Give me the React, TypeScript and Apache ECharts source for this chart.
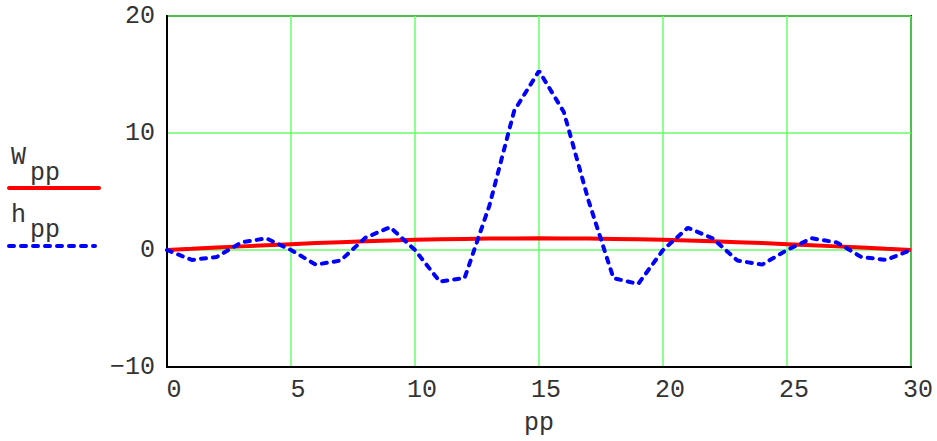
import React, { useEffect, useRef } from "react";
import * as echarts from "echarts";

const pp: number[] = Array.from({ length: 31 }, (_, i) => i);
const W: number[] = [
  0, 0.1, 0.21, 0.31, 0.41, 0.5, 0.59, 0.67, 0.74, 0.81, 0.87, 0.91, 0.95, 0.98, 0.99, 1.0,
  0.99, 0.98, 0.95, 0.91, 0.87, 0.81, 0.74, 0.67, 0.59, 0.5, 0.41, 0.31, 0.21, 0.1, 0,
];
const h: number[] = [
  0, -0.85, -0.6, 0.65, 1.0, 0, -1.25, -0.9, 1.05, 1.95, 0, -2.7, -2.4, 3.8, 11.9, 15.3,
  11.8, 4.2, -2.4, -2.9, 0, 1.9, 1.0, -0.9, -1.25, 0, 1.0, 0.65, -0.6, -0.85, 0,
];
const yTicks = [-10, 0, 10, 20];

const FONT = "'Liberation Mono', 'Courier New', monospace";
const FS = 25;
const TXT = "#333";

export default function App() {
  const ref = useRef<HTMLDivElement>(null);
  useEffect(() => {
    if (!ref.current) return;
    const chart = echarts.init(ref.current, undefined, { renderer: "svg" });
    chart.setOption({
      animation: false,
      backgroundColor: "#fff",
      grid: {
        left: 167,
        right: 26,
        top: 16,
        bottom: 72,
        show: true,
        borderColor: "#000",
        borderWidth: 2,
        backgroundColor: "transparent",
      },
      xAxis: {
        type: "value",
        min: 0,
        max: 30,
        interval: 5,
        name: "pp",
        nameLocation: "middle",
        nameGap: 44,
        nameTextStyle: { fontFamily: FONT, fontSize: FS, color: TXT },
        axisLine: { show: true, onZero: false, lineStyle: { color: "#000", width: 2 } },
        axisTick: { show: false },
        splitLine: { show: true, lineStyle: { color: "#66ff66", width: 1.5 } },
        axisLabel: {
          fontFamily: FONT,
          fontSize: FS,
          color: TXT,
          margin: 11,
          padding: [0, 0, 0, 14],
        },
      },
      yAxis: {
        type: "value",
        min: -10,
        max: 20,
        interval: 10,
        axisLine: { show: true, lineStyle: { color: "#000", width: 2 } },
        axisTick: { show: false },
        splitLine: { show: true, lineStyle: { color: "#66ff66", width: 1.5 } },
        axisLabel: {
          fontFamily: FONT,
          fontSize: FS,
          color: TXT,
          margin: 12,
          padding: [5, 0, 0, 0],
          formatter: (v: number) => (yTicks.includes(v) ? String(v).replace("-", "\u2212") : ""),
        },
      },
      series: [
        {
          name: "W",
          type: "line",
          data: pp.map((x, i) => [x, W[i]]),
          showSymbol: false,
          lineStyle: { color: "#ff0000", width: 4 },
          z: 3,
        },
        {
          name: "h",
          type: "line",
          data: pp.map((x, i) => [x, h[i]]),
          showSymbol: false,
          lineStyle: { color: "#0000ff", width: 4, type: [5, 7], cap: "round" },
          z: 4,
        },
      ],
      graphic: [
        { type: "text", left: 11, top: 145, style: { text: "W", font: `${FS}px ${FONT}`, fill: TXT } },
        { type: "text", left: 30, top: 161, style: { text: "pp", font: `${FS}px ${FONT}`, fill: TXT } },
        {
          type: "line",
          shape: { x1: 9, y1: 188, x2: 99, y2: 188 },
          style: { stroke: "#ff0000", lineWidth: 4, lineCap: "round" },
        },
        { type: "text", left: 11, top: 203, style: { text: "h", font: `${FS}px ${FONT}`, fill: TXT } },
        { type: "text", left: 30, top: 218, style: { text: "pp", font: `${FS}px ${FONT}`, fill: TXT } },
        {
          type: "line",
          shape: { x1: 9, y1: 246, x2: 95, y2: 246 },
          style: { stroke: "#0000ff", lineWidth: 4, lineCap: "round", lineDash: [5, 7] },
        },
      ],
    });
    return () => chart.dispose();
  }, []);
  return (
    <div
      ref={ref}
      style={{ position: "fixed", left: 0, top: 0, width: 937, height: 441, background: "#fff" }}
    />
  );
}
